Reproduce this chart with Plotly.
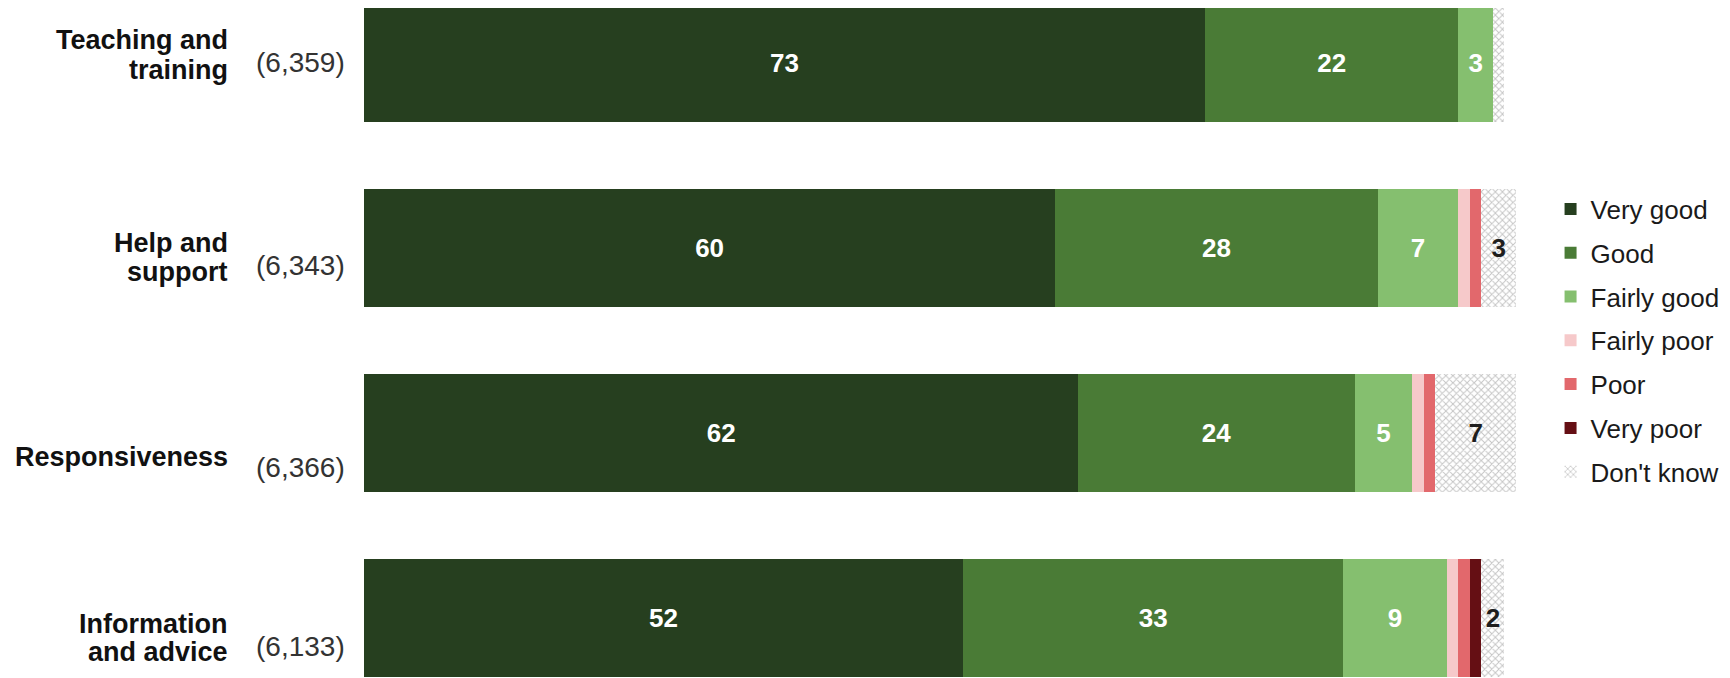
import plotly.graph_objects as go

categories = ["Teaching and training", "Help and support", "Responsiveness", "Information and advice"]
label_lines = [["Teaching and", "training"], ["Help and", "support"], ["Responsiveness"], ["Information", "and advice"]]
bases = ["(6,359)", "(6,343)", "(6,366)", "(6,133)"]

series_names = ["Very good", "Good", "Fairly good", "Fairly poor", "Poor", "Very poor", "Don't know"]
very_good = [73, 60, 62, 52]
good = [22, 28, 24, 33]
fairly_good = [3, 7, 5, 9]
fairly_poor = [0, 1, 1, 1]
poor = [0, 1, 1, 1]
very_poor = [0, 0, 0, 1]
dont_know = [1, 3, 7, 2]
series_values = [very_good, good, fairly_good, fairly_poor, poor, very_poor, dont_know]

colors = ["#263f1f", "#4a7b36", "#85bf6f", "#f6c9ca", "#e2686c", "#650f14", "#ffffff"]
text_colors = ["white", "white", "white", "white", "white", "white", "#1e1e1e"]

# vertical offsets (px, positive = up) of each label line relative to bar centre
name_line_shifts = [[23, -7], [5, -24], [-24], [-6, -34]]
base_yshift = [1, -17, -34, -29]

FONT = "Liberation Sans, Arial, sans-serif"

fig = go.Figure()
for i, (name, vals) in enumerate(zip(series_names, series_values)):
    labels = [str(v) if v >= 2 else "" for v in vals]
    marker = dict(color=colors[i], line=dict(width=0))
    if name == "Don't know":
        marker["pattern"] = dict(shape="x", fgcolor="#8a8a8a", bgcolor="#ffffff", size=5, solidity=0.35)
    fig.add_trace(go.Bar(
        y=categories, x=vals, name=name, orientation="h",
        marker=marker, text=labels, textposition="inside",
        insidetextanchor="middle", textangle=0,
        textfont=dict(family=FONT, size=26, color=text_colors[i], weight="bold"),
        legendgroup=name, hoverinfo="skip",
    ))

for cat, lines, shifts, base, bs in zip(categories, label_lines, name_line_shifts, bases, base_yshift):
    for line, sh in zip(lines, shifts):
        fig.add_annotation(x=-0.1167, xref="paper", y=cat, yref="y", text="<b>" + line + "</b>",
                           xanchor="right", yanchor="middle", align="right", showarrow=False, yshift=sh,
                           font=dict(family=FONT, size=27, color="#111111"))
    fig.add_annotation(x=-0.0144, xref="paper", y=cat, yref="y", text=base,
                       xanchor="right", yanchor="middle", align="right", showarrow=False, yshift=bs,
                       font=dict(family=FONT, size=28, color="#333333"))

fig.update_layout(
    width=1730, height=678,
    barmode="stack", bargap=0.357,
    paper_bgcolor="white", plot_bgcolor="white",
    margin=dict(l=356, r=222, t=0, b=0),
    showlegend=True,
    legend=dict(x=1.0300, xanchor="left", y=0.5096, yanchor="middle", traceorder="grouped",
                font=dict(family=FONT, size=26, color="#1a1a1a"), tracegroupgap=7,
                bgcolor="rgba(0,0,0,0)"),
    xaxis=dict(range=[0, 100], visible=False, fixedrange=True),
    yaxis=dict(categoryorder="array", categoryarray=categories, range=[3.3676, -0.2973],
               showticklabels=False, showgrid=False, zeroline=False, fixedrange=True),
    uniformtext=dict(minsize=26, mode="show"),
)

fig.write_html("out.html")
